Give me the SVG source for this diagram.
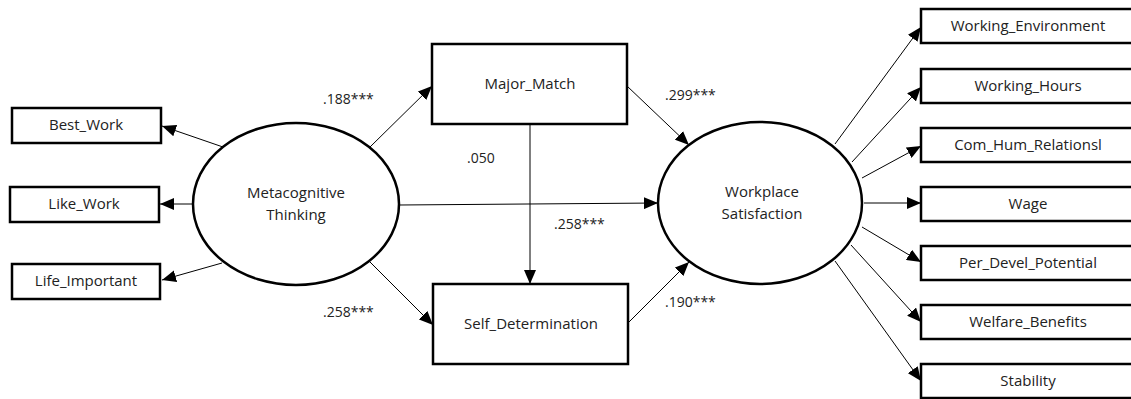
<svg xmlns="http://www.w3.org/2000/svg" width="1131" height="399" viewBox="0 0 1131 399">
<style>
.box{fill:#fff;stroke:#000;stroke-width:2.5}
.ell{fill:#fff;stroke:#000;stroke-width:2.5}
.lbl{font-family:"Open Sans","Noto Sans",sans-serif;font-size:15px;fill:#222;text-anchor:middle}
.coef{font-family:"Open Sans","Noto Sans",sans-serif;font-size:14px;fill:#222}
.con{stroke:#000;stroke-width:1;fill:none;marker-end:url(#ah)}
</style>
<defs>
<marker id="ah" viewBox="0 0 14 12" refX="14" refY="6" markerWidth="14" markerHeight="12" markerUnits="userSpaceOnUse" orient="auto">
<path d="M0,0 L14,6 L0,12 Z" fill="#000"/>
</marker>
</defs>
<rect width="1131" height="399" fill="#fff"/>
<g id="connectors">
<line class="con" x1="223" y1="147" x2="162" y2="126"/>
<line class="con" x1="193" y1="204" x2="160" y2="204"/>
<line class="con" x1="222" y1="263" x2="162" y2="280"/>
<line class="con" x1="370" y1="147" x2="432" y2="86"/>
<line class="con" x1="370" y1="262" x2="433" y2="325"/>
<line class="con" x1="399" y1="205" x2="658" y2="203"/>
<line class="con" x1="530" y1="124" x2="530" y2="284"/>
<line class="con" x1="627" y1="86" x2="689" y2="145"/>
<line class="con" x1="628" y1="323" x2="689" y2="262"/>
<line class="con" x1="835" y1="144" x2="921" y2="27"/>
<line class="con" x1="852" y1="162" x2="921" y2="87"/>
<line class="con" x1="862" y1="178" x2="921" y2="146"/>
<line class="con" x1="864" y1="203" x2="921" y2="203"/>
<line class="con" x1="862" y1="227" x2="921" y2="262"/>
<line class="con" x1="851" y1="245" x2="921" y2="322"/>
<line class="con" x1="835" y1="261" x2="921" y2="381"/>
</g>
<g id="coefs">
<text class="coef" x="323" y="104">.188***</text>
<text class="coef" x="323" y="317">.258***</text>
<text class="coef" x="467" y="163">.050</text>
<text class="coef" x="554" y="229">.258***</text>
<text class="coef" x="665" y="100">.299***</text>
<text class="coef" x="665" y="307">.190***</text>
</g>
<g id="best_work"><rect class="box" x="12" y="108" width="149" height="35"/><text class="lbl" x="86" y="130">Best_Work</text></g>
<g id="like_work"><rect class="box" x="10" y="187" width="149" height="35"/><text class="lbl" x="84" y="209">Like_Work</text></g>
<g id="life_important"><rect class="box" x="12" y="264" width="148" height="35"/><text class="lbl" x="86" y="286">Life_Important</text></g>
<g id="metacognitive"><ellipse class="ell" cx="296" cy="204" rx="103" ry="81"/><text class="lbl" x="296" y="198">Metacognitive</text><text class="lbl" x="296" y="220">Thinking</text></g>
<g id="major_match"><rect class="box" x="432" y="44" width="195" height="80"/><text class="lbl" x="530" y="89">Major_Match</text></g>
<g id="self_determination"><rect class="box" x="433" y="284" width="195" height="80"/><text class="lbl" x="531" y="329">Self_Determination</text></g>
<g id="workplace"><ellipse class="ell" cx="760" cy="203" rx="102" ry="81"/><text class="lbl" x="762" y="197">Workplace</text><text class="lbl" x="762" y="219">Satisfaction</text></g>
<g id="working_environment"><rect class="box" x="921" y="9" width="215" height="34"/><text class="lbl" x="1028" y="31">Working_Environment</text></g>
<g id="working_hours"><rect class="box" x="921" y="69" width="215" height="34"/><text class="lbl" x="1028" y="91">Working_Hours</text></g>
<g id="com_hum_relations"><rect class="box" x="921" y="128" width="215" height="34"/><text class="lbl" x="1028" y="150">Com_Hum_Relationsl</text></g>
<g id="wage"><rect class="box" x="921" y="187" width="215" height="34"/><text class="lbl" x="1028" y="209">Wage</text></g>
<g id="per_devel_potential"><rect class="box" x="921" y="246" width="215" height="34"/><text class="lbl" x="1028" y="268">Per_Devel_Potential</text></g>
<g id="welfare_benefits"><rect class="box" x="921" y="305" width="215" height="34"/><text class="lbl" x="1028" y="327">Welfare_Benefits</text></g>
<g id="stability"><rect class="box" x="921" y="364" width="215" height="34"/><text class="lbl" x="1028" y="386">Stability</text></g>
</svg>
